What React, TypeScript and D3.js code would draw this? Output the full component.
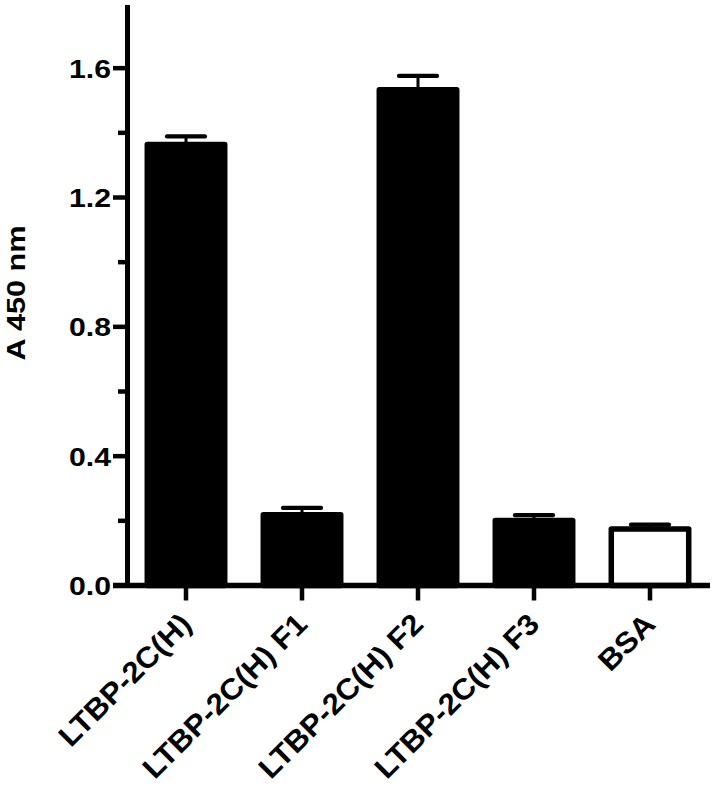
import React from 'react'
import * as d3 from 'd3'

const categories = ['LTBP-2C(H)', 'LTBP-2C(H) F1', 'LTBP-2C(H) F2', 'LTBP-2C(H) F3', 'BSA']
const means = [1.364, 0.219, 1.533, 0.201, 0.175]
const errors = [0.025, 0.021, 0.043, 0.0165, 0.013]
const fills = ['#000', '#000', '#000', '#000', '#fff']
const majorTicks = [0, 0.4, 0.8, 1.2, 1.6]
const minorTicks = [0.2, 0.6, 1.0, 1.4]

const W = 714
const H = 787
const FONT = '"Liberation Sans", Arial, sans-serif'

const App = () => {
  const x = d3
    .scaleBand()
    .domain(categories)
    .range([128, 708])
    .paddingInner(0.285)
    .paddingOuter(0.1425)

  const y = d3.scaleLinear().domain([0, 1.8]).range([585.5, 3.5])

  const sw = 5.5
  const bw = x.bandwidth()

  return (
    <svg
      width={W}
      height={H}
      style={{ position: 'absolute', left: 0, top: 0, background: '#fff' }}
      fontFamily={FONT}
      fontWeight="bold"
    >
      {/* bars */}
      {categories.map((c, i) => {
        const x0 = x(c)
        return (
          <rect
            key={c}
            x={x0 + sw / 2}
            y={y(means[i])}
            width={bw - sw}
            height={y(0) - y(means[i])}
            fill={fills[i]}
            stroke="#000"
            strokeWidth={sw}
            strokeLinejoin="round"
          />
        )
      })}

      {/* error bars */}
      {categories.map((c, i) => {
        const cx = x(c) + bw / 2
        const top = y(means[i] + errors[i])
        return (
          <g key={c} stroke="#000" strokeLinecap="round">
            <line x1={cx} x2={cx} y1={y(means[i])} y2={top} strokeWidth={3} />
            <line x1={cx - 19} x2={cx + 19} y1={top} y2={top} strokeWidth={4.2} />
          </g>
        )
      })}

      {/* y axis */}
      <line x1={127.5} x2={127.5} y1={y(1.8) + 1.5} y2={y(0) + 2.5} stroke="#000" strokeWidth={5} />
      {majorTicks.map((t) => (
        <g key={t}>
          <line x1={113} x2={128} y1={y(t)} y2={y(t)} stroke="#000" strokeWidth={4.5} />
          <text
            transform={`translate(111,${y(t) + 9.5}) scale(1.14,1)`}
            textAnchor="end"
            fontSize={26.5}
          >
            {d3.format('.1f')(t)}
          </text>
        </g>
      ))}
      {minorTicks.map((t) => (
        <line key={t} x1={118} x2={128} y1={y(t)} y2={y(t)} stroke="#000" strokeWidth={4.5} />
      ))}
      <text
        transform="translate(25,293) rotate(-90) scale(1.18,1)"
        textAnchor="middle"
        fontSize={26}
      >
        A 450 nm
      </text>

      {/* x axis */}
      <line x1={113} x2={710} y1={y(0)} y2={y(0)} stroke="#000" strokeWidth={5.5} />
      {categories.map((c) => {
        const cx = x(c) + bw / 2
        return (
          <g key={c}>
            <line x1={cx} x2={cx} y1={y(0)} y2={y(0) + 15} stroke="#000" strokeWidth={4.5} />
            <text
              transform={`translate(${cx + 7},626) rotate(-45) scale(1.06,1)`}
              textAnchor="end"
              fontSize={29.5}
            >
              {c}
            </text>
          </g>
        )
      })}
    </svg>
  )
}

export default App
